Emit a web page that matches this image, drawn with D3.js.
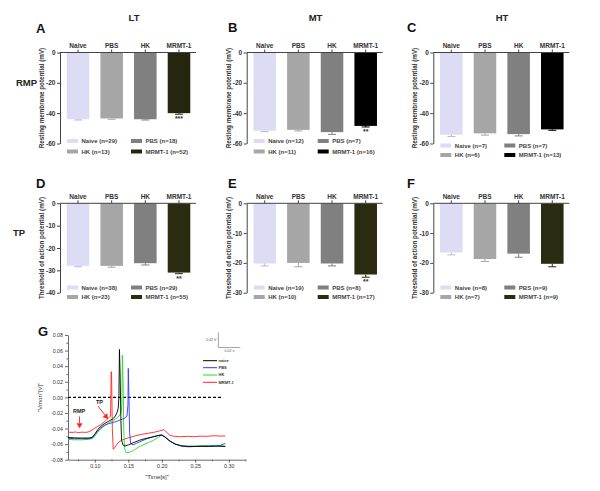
<!DOCTYPE html>
<html><head><meta charset="utf-8">
<script src="https://cdn.jsdelivr.net/npm/d3@7"></script>
<style>body{margin:0;background:#fff}svg{display:block;font-family:Arial,"Liberation Sans",sans-serif}</style>
</head><body><svg id="c" width="600" height="491"></svg>
<script>
// ---------- DATA ----------
const groups = ["Naive", "PBS", "HK", "MRMT-1"];
const columnTitles = ["LT", "MT", "HT"];
const rowTitles = ["RMP", "TP"];
const panelLetters = ["A", "B", "C", "D", "E", "F"];

// Resting membrane potential (mV)
const rmpLT = [-44.0, -43.5, -44.0, -40.0];
const rmpLTerr = [0.5, 0.5, 0.5, 0.7];
const rmpLTn = [29, 18, 13, 52];
const rmpMT = [-51.6, -51.0, -52.5, -48.4];
const rmpMTerr = [0.6, 0.7, 1.5, 0.7];
const rmpMTn = [12, 7, 11, 16];
const rmpHT = [-54.2, -53.3, -53.8, -50.7];
const rmpHTerr = [1.2, 1.2, 1.2, 0.6];
const rmpHTn = [7, 7, 6, 13];
// Threshold of action potential (mV)
const tpLT = [-28.0, -28.0, -26.8, -31.0];
const tpLTerr = [0.4, 0.6, 0.8, 0.5];
const tpLTn = [38, 29, 23, 55];
const tpMT = [-20.2, -20.0, -20.2, -23.9];
const tpMTerr = [0.8, 1.3, 0.8, 0.9];
const tpMTn = [19, 8, 10, 17];
const tpHT = [-16.5, -18.7, -16.9, -20.3];
const tpHTerr = [0.8, 0.8, 1.2, 1.0];
const tpHTn = [8, 9, 7, 9];
const sigMarks = ["***", "**", "", "**", "**", ""];

const rmpTicks = [0, -20, -40, -60];
const tpTicks = [0, -10, -20, -30, -40];
const tpTicks2 = [0, -10, -20, -30];

// Panel G traces: time (s) and membrane voltage (V)
const naiveT = [0.060,0.070,0.080,0.090,0.096,0.100,0.104,0.108,0.114,0.120,0.126,0.130,0.133,0.135,0.136,0.1368,0.1378,0.1390,0.1400,0.142,0.145,0.150,0.158,0.167,0.175,0.185,0.195,0.200,0.205,0.212,0.220,0.230,0.240,0.250,0.260,0.270,0.280,0.290,0.295];
const naiveV = [-0.0515,-0.0520,-0.0522,-0.0522,-0.0515,-0.047,-0.042,-0.038,-0.034,-0.031,-0.028,-0.025,-0.020,-0.014,0.000,0.0615,0.030,-0.030,-0.055,-0.061,-0.0625,-0.061,-0.058,-0.055,-0.053,-0.051,-0.049,-0.0485,-0.051,-0.056,-0.060,-0.0625,-0.063,-0.063,-0.0628,-0.0630,-0.0625,-0.063,-0.063];
const pbsT = [0.060,0.070,0.080,0.090,0.096,0.100,0.104,0.108,0.114,0.120,0.126,0.132,0.138,0.144,0.148,0.1495,0.1500,0.1510,0.1520,0.1535,0.157,0.162,0.170,0.178,0.186,0.194,0.200,0.205,0.212,0.220,0.230,0.240,0.250,0.260,0.270,0.280,0.288,0.295];
const pbsV = [-0.0525,-0.053,-0.053,-0.053,-0.052,-0.048,-0.044,-0.040,-0.036,-0.034,-0.0325,-0.031,-0.029,-0.027,-0.024,-0.010,0.037,0.000,-0.045,-0.059,-0.061,-0.059,-0.056,-0.053,-0.051,-0.049,-0.048,-0.051,-0.056,-0.060,-0.0625,-0.0635,-0.063,-0.063,-0.0625,-0.063,-0.0615,-0.059];
const hkT = [0.060,0.070,0.080,0.090,0.096,0.100,0.104,0.108,0.114,0.120,0.126,0.132,0.136,0.139,0.1405,0.1412,0.1422,0.1432,0.1445,0.147,0.152,0.158,0.165,0.172,0.180,0.188,0.195,0.200,0.204,0.210,0.218,0.228,0.240,0.250,0.260,0.270,0.280,0.290,0.295];
const hkV = [-0.054,-0.0545,-0.0545,-0.054,-0.053,-0.050,-0.045,-0.041,-0.037,-0.033,-0.030,-0.027,-0.024,-0.020,-0.010,0.054,0.020,-0.040,-0.066,-0.071,-0.0705,-0.068,-0.064,-0.061,-0.058,-0.055,-0.051,-0.0485,-0.050,-0.055,-0.059,-0.062,-0.0625,-0.0625,-0.062,-0.062,-0.0615,-0.062,-0.0625];
const mrmtT = [0.060,0.066,0.071,0.076,0.081,0.086,0.091,0.096,0.100,0.104,0.108,0.112,0.116,0.120,0.1235,0.1245,0.1250,0.1262,0.1275,0.130,0.135,0.140,0.150,0.160,0.170,0.180,0.190,0.197,0.203,0.207,0.212,0.218,0.228,0.238,0.248,0.258,0.268,0.278,0.288,0.295];
const mrmtV = [-0.0445,-0.0450,-0.0445,-0.0452,-0.0446,-0.0450,-0.0443,-0.0420,-0.0395,-0.0375,-0.0355,-0.0330,-0.0300,-0.0270,-0.0240,0.0330,0.0300,-0.0400,-0.0667,-0.064,-0.058,-0.055,-0.052,-0.0495,-0.0475,-0.046,-0.0445,-0.043,-0.0415,-0.0445,-0.0485,-0.0500,-0.0505,-0.0500,-0.0505,-0.0498,-0.0500,-0.0492,-0.0497,-0.0495];
const traceNames = ["naive", "PBS", "HK", "MRMT-1"];
const traceColors = ["#000000", "#3333ff", "#22dd22", "#ff2222"];
const gXTicks = [0.10, 0.15, 0.20, 0.25, 0.30];
const gYTicks = [-0.08, -0.06, -0.04, -0.02, 0.00, 0.02, 0.04, 0.06, 0.08];

// ---------- DRAW ----------
const svg = d3.select("#c");
const naiveColor = "#dcdcf5", pbsColor = "#a6a6a6", hkColor = "#808080";
const mrmtColors = ["#26260e", "#000000", "#000000", "#2b2b12", "#2b2b12", "#2b2b12"];

const panels = [
  {vals: rmpLT, err: rmpLTerr, n: rmpLTn},
  {vals: rmpMT, err: rmpMTerr, n: rmpMTn},
  {vals: rmpHT, err: rmpHTerr, n: rmpHTn},
  {vals: tpLT, err: tpLTerr, n: tpLTn},
  {vals: tpMT, err: tpMTerr, n: tpMTn},
  {vals: tpHT, err: tpHTerr, n: tpHTn}
];
const colX = [60, 246.7, 433.3];
const bold = "bold";

panels.forEach((p, i) => {
  const col = i % 3, row = Math.floor(i / 3);
  const x0 = colX[col];
  const isRMP = row === 0;
  const top = isRMP ? 52.5 : 203.3;
  const bottom = isRMP ? 143.5 : 292.7;
  const dom = isRMP ? [-60, 0] : (col === 0 ? [-40, 0] : [-30, 0]);
  const ticks = isRMP ? rmpTicks : (col === 0 ? tpTicks : tpTicks2);
  const y = d3.scaleLinear().domain(dom).range([bottom, top]);
  const x = d3.scaleBand().domain(groups).range([x0, x0 + 137]).paddingInner(0.33).paddingOuter(0.2);
  const colors = [naiveColor, pbsColor, hkColor, mrmtColors[i]];
  const g = svg.append("g");

  g.selectAll("rect.bar").data(groups).join("rect")
    .attr("x", d => x(d)).attr("width", x.bandwidth())
    .attr("y", y(0)).attr("height", (d, k) => y(p.vals[k]) - y(0))
    .attr("fill", (d, k) => colors[k]);
  groups.forEach((gname, k) => {
    const cx = x(gname) + x.bandwidth() / 2;
    const ec = k === 0 ? "#b8b8d8" : colors[k];
    g.append("line").attr("x1", cx).attr("x2", cx)
      .attr("y1", y(p.vals[k])).attr("y2", y(p.vals[k] - p.err[k]))
      .attr("stroke", ec).attr("stroke-width", 1);
    g.append("line").attr("x1", cx - 4).attr("x2", cx + 4)
      .attr("y1", y(p.vals[k] - p.err[k])).attr("y2", y(p.vals[k] - p.err[k]))
      .attr("stroke", ec).attr("stroke-width", 1);
  });
  if (sigMarks[i]) {
    g.append("text").attr("x", x("MRMT-1") + x.bandwidth() / 2)
      .attr("y", y(p.vals[3] - p.err[3]) + 7)
      .attr("text-anchor", "middle").attr("font-size", 7).attr("font-weight", bold)
      .attr("fill", "#333").text(sigMarks[i]);
  }

  const ya = g.append("g").attr("transform", `translate(${x0},0)`)
    .call(d3.axisLeft(y).tickValues(ticks).tickSize(3).tickSizeOuter(0).tickPadding(1.5)
      .tickFormat(d => d === 0 ? "0" : String(d)));
  ya.selectAll("text").attr("font-size", 6.5).attr("font-weight", bold).attr("fill", "#333");
  ya.selectAll("line,path").attr("stroke", "#444");
  const xa = g.append("g").attr("transform", `translate(0,${y(0)})`)
    .call(d3.axisTop(x).tickSize(3).tickSizeOuter(0).tickPadding(1.5));
  xa.select("path").attr("d", `M${x0},0H${x0 + 136}`);
  xa.selectAll("text").attr("font-size", 6.5).attr("font-weight", bold).attr("fill", "#333");
  xa.selectAll("line,path").attr("stroke", "#444");

  g.append("text")
    .attr("transform", `translate(${x0 - 16},${(top + bottom) / 2}) rotate(-90)`)
    .attr("text-anchor", "middle").attr("font-size", 6.3).attr("font-weight", bold).attr("fill", "#333")
    .text(isRMP ? "Resting membrane potential (mV)" : "Threshold of action potential (mV)");

  const legY = isRMP ? (col === 2 ? [145.5, 155] : [141, 151.5]) : [287.5, 297];
  const legItems = [
    {c: colors[0], t: `Naive (n=${p.n[0]})`, cx: 0, r: 0},
    {c: colors[2], t: `PBS (n=${p.n[1]})`, cx: 1, r: 0},
    {c: colors[1], t: `HK (n=${p.n[2]})`, cx: 0, r: 1},
    {c: colors[3], t: `MRMT-1 (n=${p.n[3]})`, cx: 1, r: 1}
  ];
  legItems.forEach(it => {
    const lx = x0 + (it.cx ? 71 : 7);
    const ly = legY[it.r];
    g.append("rect").attr("x", lx).attr("y", ly - 2).attr("width", 11).attr("height", 4).attr("fill", it.c);
    g.append("text").attr("x", lx + 14.5).attr("y", ly).attr("dy", "0.35em")
      .attr("font-size", 6).attr("font-weight", bold).attr("fill", "#444").text(it.t);
  });
});

const letterPos = [[36, 33], [228, 32], [407, 32], [36, 188], [228, 188], [407, 188]];
panelLetters.forEach((L, i) => {
  svg.append("text").attr("x", letterPos[i][0]).attr("y", letterPos[i][1])
    .attr("font-size", 13).attr("font-weight", bold).attr("fill", "#111").text(L);
});
const titleX = [134, 315.5, 502];
columnTitles.forEach((t, i) => {
  svg.append("text").attr("x", titleX[i]).attr("y", 21).attr("text-anchor", "middle")
    .attr("font-size", 9.5).attr("font-weight", bold).attr("fill", "#222").text(t);
});
svg.append("text").attr("x", 16).attr("y", 86).attr("font-size", 9.5).attr("font-weight", bold).attr("fill", "#222").text(rowTitles[0]);
svg.append("text").attr("x", 13).attr("y", 236).attr("font-size", 9.5).attr("font-weight", bold).attr("fill", "#222").text(rowTitles[1]);

// ---------- PANEL G ----------
const gx = d3.scaleLinear().domain([0.06, 0.325]).range([68, 245.5]);
const gy = d3.scaleLinear().domain([-0.08, 0.08]).range([459.7, 335]);
const G = svg.append("g");
G.append("text").attr("x", 38).attr("y", 336).attr("font-size", 13).attr("font-weight", bold).attr("fill", "#111").text("G");

const fmt2 = d => d.toFixed(2);
G.append("g").attr("transform", `translate(0,${gy(-0.08)})`)
  .call(d3.axisBottom(gx).tickValues(gXTicks).tickSize(3).tickSizeOuter(0).tickPadding(2).tickFormat(fmt2));
const xMinor = G.append("g").attr("transform", `translate(0,${gy(-0.08)})`)
  .call(d3.axisBottom(gx).tickValues(d3.range(0.075, 0.33, 0.05)).tickSize(1.6).tickFormat(""));
xMinor.select("path").remove();
G.append("g").attr("transform", `translate(${gx(0.06)},0)`)
  .call(d3.axisLeft(gy).tickValues(gYTicks).tickSize(3).tickSizeOuter(0).tickPadding(2).tickFormat(fmt2));
const yMinor = G.append("g").attr("transform", `translate(${gx(0.06)},0)`)
  .call(d3.axisLeft(gy).tickValues(d3.range(-0.07, 0.08, 0.02)).tickSize(1.6).tickFormat(""));
yMinor.select("path").remove();
G.selectAll(".tick text").attr("font-size", 5.3).attr("fill", "#333");
G.selectAll("line,path").attr("stroke", "#444").attr("stroke-width", 0.8);

G.append("text").attr("transform", `translate(42,${gy(0)}) rotate(-90)`).attr("text-anchor", "middle")
  .attr("font-size", 6).attr("fill", "#333").text('"Vmon"[V]"');
G.append("text").attr("x", 157).attr("y", 479).attr("text-anchor", "middle")
  .attr("font-size", 6).attr("fill", "#333").text('"Time[s]"');

G.append("line").attr("x1", gx(0.06)).attr("x2", gx(0.29)).attr("y1", gy(0)).attr("y2", gy(0))
  .attr("stroke", "#000").attr("stroke-width", 1.3).attr("stroke-dasharray", "3,2");

const line = d3.line().x(d => gx(d[0])).y(d => gy(d[1]));
const traces = [[naiveT, naiveV], [pbsT, pbsV], [hkT, hkV], [mrmtT, mrmtV]];
[3, 2, 1, 0].forEach(k => {
  const pts = d3.zip(traces[k][0], traces[k][1]);
  G.append("path").attr("d", line(pts)).attr("fill", "none")
    .attr("stroke", traceColors[k]).attr("stroke-width", 0.9).attr("stroke-linejoin", "round");
});

const red = "#ff2020";
G.append("text").attr("x", gx(0.0675)).attr("y", gy(-0.0175)).attr("dy", "0.35em")
  .attr("font-size", 5.5).attr("font-weight", bold).attr("fill", "#222").text("RMP");
G.append("text").attr("x", gx(0.1018)).attr("y", gy(-0.0056)).attr("dy", "0.35em")
  .attr("font-size", 5.5).attr("font-weight", bold).attr("fill", "#222").text("TP");
function arrow(t1, v1, t2, v2) {
  const x1 = gx(t1), y1 = gy(v1), x2 = gx(t2), y2 = gy(v2);
  const a = Math.atan2(y2 - y1, x2 - x1), L = 5, W = 3;
  const bx = x2 - L * Math.cos(a), by = y2 - L * Math.sin(a);
  G.append("line").attr("x1", x1).attr("y1", y1).attr("x2", bx).attr("y2", by).attr("stroke", red).attr("stroke-width", 0.9);
  G.append("path").attr("d", `M${x2},${y2}L${bx - W * Math.sin(a)},${by + W * Math.cos(a)}L${bx + W * Math.sin(a)},${by - W * Math.cos(a)}Z`).attr("fill", red);
}
arrow(0.0772, -0.0245, 0.0772, -0.0395);
arrow(0.1048, -0.0112, 0.1197, -0.0278);

const sbx = gx(0.2845), sby = gy(0.064);
G.append("path").attr("d", `M${sbx},${sby - 15}V${sby}H${sbx + 22}`).attr("fill", "none").attr("stroke", "#666").attr("stroke-width", 0.6);
G.append("text").attr("x", sbx - 2).attr("y", sby - 6).attr("text-anchor", "end").attr("font-size", 3.5).attr("fill", "#555").text("0.02 V");
G.append("text").attr("x", sbx + 11).attr("y", sby + 5).attr("text-anchor", "middle").attr("font-size", 3.5).attr("fill", "#555").text("0.02 s");

const legRows = [360.7, 367.7, 375, 382.3];
traceNames.forEach((nm, k) => {
  G.append("line").attr("x1", 203).attr("x2", 217).attr("y1", legRows[k]).attr("y2", legRows[k])
    .attr("stroke", traceColors[k]).attr("stroke-width", 1);
  G.append("text").attr("x", 218.5).attr("y", legRows[k]).attr("dy", "0.35em")
    .attr("font-size", 4).attr("font-weight", bold).attr("fill", "#333").text(nm);
});
</script></body></html>
